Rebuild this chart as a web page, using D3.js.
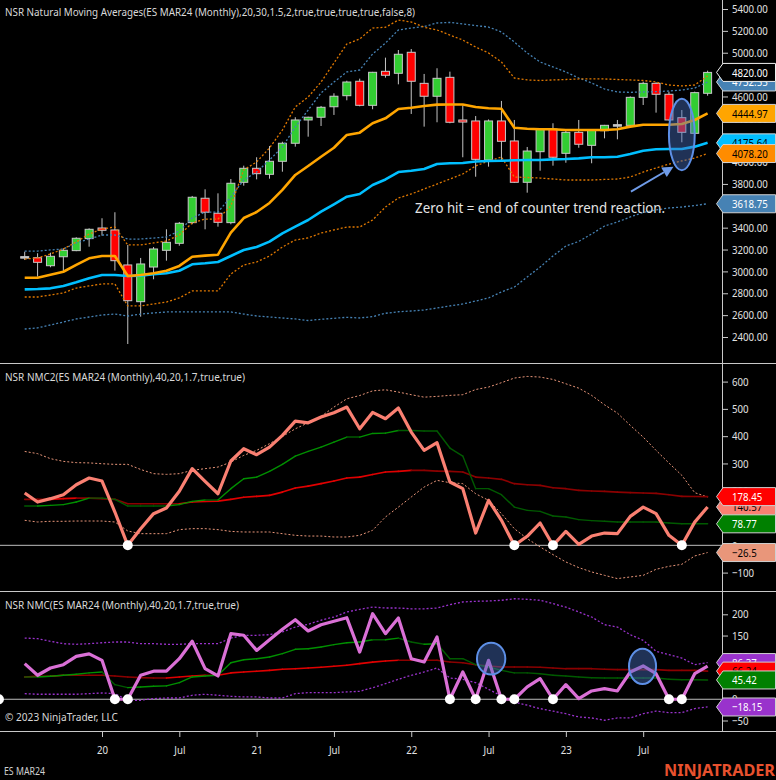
<!DOCTYPE html>
<html><head><meta charset="utf-8">
<script src="https://cdn.jsdelivr.net/npm/d3@7"></script>
<style>
html,body{margin:0;padding:0;background:#000;}
svg{display:block;}
text{font-family:"Segoe UI","Noto Sans","Open Sans",sans-serif;}
</style></head><body>
<svg id="chart" width="776" height="780"></svg>
<script>
// ---------- DATA ----------
const months = ["2019-07","2019-08","2019-09","2019-10","2019-11","2019-12",
"2020-01","2020-02","2020-03","2020-04","2020-05","2020-06","2020-07","2020-08","2020-09","2020-10","2020-11","2020-12",
"2021-01","2021-02","2021-03","2021-04","2021-05","2021-06","2021-07","2021-08","2021-09","2021-10","2021-11","2021-12",
"2022-01","2022-02","2022-03","2022-04","2022-05","2022-06","2022-07","2022-08","2022-09","2022-10","2022-11","2022-12",
"2023-01","2023-02","2023-03","2023-04","2023-05","2023-06","2023-07","2023-08","2023-09","2023-10","2023-11","2023-12"];
const xTickMonths = ["2020-01","2020-07","2021-01","2021-07","2022-01","2022-07","2023-01","2023-07"];
const xTickLabels = ["20","Jul","21","Jul","22","Jul","23","Jul"];

const open  = [3135,3125,3052,3134,3190,3300,3397,3379,3059,2723,3040,3193,3257,3446,3669,3532,3446,3815,3943,3888,4007,4172,4385,4410,4506,4607,4739,4519,4830,4812,5004,4720,4602,4775,4385,4376,4019,4376,4193,3815,4095,4302,4080,4272,4153,4287,4342,4336,4592,4720,4620,4406,4263,4629];
const high  = [3180,3166,3171,3211,3312,3394,3486,3541,3242,3123,3223,3385,3452,3690,3751,3714,3845,3967,4044,4147,4186,4410,4415,4513,4629,4744,4763,4825,4955,5025,5034,4806,4858,4827,4519,4421,4390,4559,4385,4138,4310,4355,4293,4385,4300,4340,4385,4600,4735,4730,4644,4476,4644,4836];
const low   = [3104,2952,3038,2997,3185,3226,3327,3007,2336,2586,2928,3098,3235,3431,3385,3409,3431,3784,3842,3848,3912,4141,4232,4330,4431,4565,4510,4483,4772,4711,4440,4324,4364,4355,4044,3866,3958,4019,3810,3720,3921,3967,3994,4131,3989,4217,4208,4330,4522,4452,4380,4181,4255,4607];
const close = [3135,3083,3138,3193,3303,3385,3376,3098,2732,3068,3205,3266,3440,3678,3541,3449,3806,3943,3894,4007,4172,4385,4410,4501,4602,4732,4519,4821,4794,4986,4739,4602,4766,4364,4366,4025,4376,4190,3815,4101,4305,4044,4272,4163,4293,4336,4342,4592,4720,4620,4385,4272,4635,4820];

const nmaFast   = [2942,2942,2970,2997,3059,3120,3141,3141,2958,2967,2983,3006,3050,3134,3144,3153,3354,3488,3543,3626,3745,3882,3964,4049,4131,4248,4269,4355,4400,4485,4497,4513,4525,4527,4527,4504,4492,4488,4314,4305,4300,4300,4293,4293,4293,4293,4300,4324,4342,4342,4342,4348,4385,4444.97];
const nmaSlow   = [2836,2839,2845,2867,2900,2937,2967,2967,2958,2961,2974,2983,3006,3065,3074,3086,3141,3196,3223,3272,3348,3409,3470,3546,3614,3683,3708,3790,3841,3909,3921,3937,3982,3989,3991,4005,4010,4012,4016,4019,4019,4025,4028,4034,4044,4044,4049,4074,4104,4117,4120,4120,4141,4175.64];
const fastUpper = [3113,3123,3159,3205,3269,3342,3388,3406,3242,3242,3260,3278,3333,3443,3479,3479,3600,3928,4001,4129,4293,4504,4595,4732,4906,5080,5126,5226,5233,5299,5281,5233,5208,5162,5116,5052,4998,4915,4769,4751,4746,4751,4755,4760,4760,4760,4755,4751,4746,4732,4705,4696,4705,4787];
const fastLower = [2766,2766,2784,2803,2848,2867,2885,2885,2684,2684,2702,2720,2757,2821,2821,2821,2976,3059,3086,3141,3223,3287,3306,3351,3379,3406,3406,3470,3589,3671,3708,3754,3799,3845,3891,3964,4010,4046,3863,3859,3854,3845,3836,3836,3836,3841,3845,3863,3909,3946,3982,4010,4037,4078.20];
const slowUpper = [3186,3186,3196,3205,3260,3296,3333,3333,3296,3296,3305,3315,3370,3488,3543,3543,3681,3836,3909,4019,4138,4321,4476,4632,4732,4824,4842,4988,5089,5208,5226,5240,5272,5277,5263,5249,5235,5190,5098,4998,4915,4870,4824,4769,4723,4668,4641,4638,4641,4644,4650,4659,4677,4732.55];
const slowLower = [2473,2483,2510,2537,2565,2583,2601,2610,2592,2610,2620,2629,2629,2629,2629,2629,2629,2610,2592,2583,2574,2565,2551,2562,2571,2580,2574,2586,2617,2631,2638,2647,2665,2684,2702,2729,2757,2812,2857,2949,3040,3141,3232,3274,3342,3415,3452,3498,3539,3562,3580,3589,3603,3618.75];
const priceTicks = [5400,5200,5000,4800,4600,4400,4200,4000,3800,3600,3400,3200,3000,2800,2600,2400];

const nmc2      = [191.6,158.6,171,185.6,222,246.6,235.6,122,0,61,116,136.8,198,281,234.4,189,309,354,332,360,403,455,449,470,486,506.6,427,487,464,503,415,348,376,232,207.6,45,165,91.6,0,33,81.8,0,51,3.7,34,45,42.7,106,140,116,36.6,0,85,140.57];
const nmc2Red   = [168.5,168.5,168.5,171,173,173,171,168.5,152.6,152.6,152.6,152.6,152.6,158.6,161,162,168.5,176,179.5,183,195,210,217,226,235.6,246.6,250,259.5,268.5,271,274.7,274.7,272,271,268.5,250,246.6,241.8,226,222,219.8,211,207.6,201.5,199,197.8,195,193,191.6,190.5,185.6,179.5,179,178.45];
const nmc2Green = [144,144,146.5,149,158.6,173,173,168.5,144,144,144,144,149,161,166,166,207.6,244,250,271,296.7,327,344,360,378,396.7,396.7,410,411,421,421,418.8,418.8,356.5,327,207.6,207.6,185.6,140,128,124.5,107.4,103.8,94,90.4,88,85.5,85.5,85.5,85.5,81.8,79,79,78.77];
const nmc2Upper = [344,336,317.5,307.7,303,302,299,296.7,296.7,278,262.6,260,262.6,274.7,281,286.8,305,329.7,348,372.5,399,427,449,472.5,506.6,537,549,566,570,561.6,552,543,545.8,549.5,552,571,580,596,613,619,616.6,608,592,576,549.5,515,484.6,439.6,396.7,348,301.5,256.4,193,177];
const nmc2Lower = [91.6,85.5,88,88,89,89,89,85.5,52.5,42.7,42.7,42.7,57.5,61,61,57.5,51,48.8,48.8,48.8,42.7,36.6,34,34,30.5,30.5,36.6,55,103.8,140,177,213.6,238,229.6,226,189,164.8,116,61,24.4,-6,-34,-61,-81.7,-97.6,-110,-122,-116,-110,-88,-77,-69.6,-39,-26.5];
const nmc2Ticks = [600,500,400,300,200,100,0,-100];

const nmc      = [83.8,56.5,73.6,81.4,101,107,91.7,0,0,56.5,66,66,95.5,136.5,72,54.8,154.4,150.6,115,140,164.7,187.3,160.7,175.5,183.5,192,111,201.5,154.4,191.3,95.5,87.8,146.6,0,64.2,0,91.7,0,0,29,48.5,0,34.4,1.5,19.5,25,19.5,64.2,78.4,60.2,0,0,60.2,78];
const nmcRed   = [52.5,54,54,56.5,56.5,56.5,56.5,54.8,52.5,51,50,50,52.5,54.8,56.5,56.5,62,64.2,66,68,70.6,72,73.6,75.3,77.6,80,83.8,87.5,90,91.7,91.7,91.7,91.7,87.8,86,81.4,78.4,76,76,76,75.3,73.6,72,72,72,70.6,69.8,69.8,69.8,69.8,68,68,68,66.24];
const nmcGreen = [52.5,52.5,54,56.5,58.8,62,64.2,34.4,27.3,29,30.6,31.4,39,52.5,54.8,56.5,86,93,95.5,99.5,107.3,117.6,119,123,128.5,133,134.8,140,140,144,134.8,129.4,130.8,95.5,95.5,81.4,76,68,62,62,60.2,56.5,54.8,52.5,50.8,50,50,50,50,50,47,46,46,45.42];
const nmcUpper = [144,142.6,136.5,130.8,129.4,130.8,133,134.8,134.8,130.8,130.8,129.4,129.4,130.8,130.8,130.8,144,150.6,150.6,152,158.4,170,176.5,186,193.6,205.4,211.7,217,214.8,214.8,213,213,214.8,222.6,229,230.6,231.3,233,236.7,235.3,233,225,217,205.4,193.6,175.5,170,152,138.8,113,105,97,81.4,86.37];
const nmcLower = [13.2,11.8,11.8,11.8,11.8,13.2,14.8,13.2,-2.4,-2.4,1.5,3,3,9.4,11.8,9.4,7,5.4,5.4,3,3,13.2,15.6,15.6,15.6,17.2,18.8,27,36.7,47,56.5,64.2,73.6,50,47,39,23.5,7.8,-6.4,-14,-22,-28,-34,-41.6,-44,-49.4,-44,-44,-34,-28,-31.5,-31.5,-22,-18.15];
const nmcTicks = [200,150,100,50,0,-50];
const nmcPriorZeroHits = [-2];   // bar index before the first visible bar

const titleTop = "NSR Natural Moving Averages(ES MAR24 (Monthly),20,30,1.5,2,true,true,true,true,false,8)";
const titleMid = "NSR NMC2(ES MAR24 (Monthly),40,20,1.7,true,true)";
const titleBot = "NSR NMC(ES MAR24 (Monthly),40,20,1.7,true,true)";

// annotations (bar index, value)
const topEllipse = {i0:50, i1:52, v0:4580, v1:3925};
const topArrow = {i0:47.05, v0:3729, i1:50.35, v1:3958};
const topNote = {i:30.3, v:3580, text:"Zero hit = end of counter trend reaction."};
const nmcEllipses = [{i0:35.1,i1:37.3,v0:133,v1:58},{i0:46.9,i1:49.0,v0:119,v1:36}];

// ---------- LAYOUT ----------
const svg = d3.select("#chart");
svg.append("rect").attr("width",776).attr("height",780).attr("fill","#000");
const AX = 722;
const panels = {top:[0,363], mid:[363,591], bot:[591,731]};
const x = d3.scalePoint().domain(months).range([24.7,707.6]);
const xi = d3.scaleLinear().domain([0,months.length-1]).range([24.7,707.6]);
const yTop = d3.scaleLinear().domain([2400,5400]).range([337,9]);
const yMid = d3.scaleLinear().domain([-100,600]).range([572.6,381.6]);
const yBot = d3.scaleLinear().domain([-50,200]).range([720.5,614.3]);

const defs = svg.append("defs");
Object.entries(panels).forEach(([k,[a,b]])=>{
  defs.append("clipPath").attr("id","clip-"+k).append("rect").attr("x",0).attr("y",a).attr("width",AX).attr("height",b-a);
});
const gTop = svg.append("g").attr("clip-path","url(#clip-top)");
const gMid = svg.append("g").attr("clip-path","url(#clip-mid)");
const gBot = svg.append("g").attr("clip-path","url(#clip-bot)");

function lineOf(y){ return d3.line().x((d,i)=>x(months[i])).y(d=>y(d)); }
function plotLine(g, data, y, color, w, dash){
  const p = g.append("path").attr("d", lineOf(y)(data)).attr("fill","none")
    .attr("stroke",color).attr("stroke-width",w).attr("stroke-linejoin","round");
  if(dash) p.attr("stroke-dasharray",dash);
  return p;
}
function slopeLine(g, data, y, upColor, dnColor, w){
  for(let i=1;i<data.length;i++){
    g.append("line").attr("x1",x(months[i-1])).attr("y1",y(data[i-1]))
      .attr("x2",x(months[i])).attr("y2",y(data[i]))
      .attr("stroke", data[i]>data[i-1]?upColor:dnColor).attr("stroke-width",w).attr("stroke-linecap","round");
  }
}

// ---------- TOP PANEL ----------
months.forEach((m,i)=>{
  const cx = x(m);
  gTop.append("line").attr("x1",cx).attr("x2",cx).attr("y1",yTop(high[i])).attr("y2",yTop(low[i]))
    .attr("stroke","#c4c4c4").attr("stroke-width",1);
  const o=open[i], c=close[i];
  const yt = yTop(Math.max(o,c)), yb = yTop(Math.min(o,c));
  gTop.append("rect").attr("x",cx-4).attr("y",yt).attr("width",8).attr("height",Math.max(1.5,yb-yt))
    .attr("fill", c>o?"#32CD32":(c<o?"#FF0000":"#c4c4c4")).attr("stroke","#c8c8c8").attr("stroke-width",1);
});
plotLine(gTop, slowLower, yTop, "#4682B4", 1.3, "2,2");
plotLine(gTop, slowUpper, yTop, "#4682B4", 1.3, "2,2");
plotLine(gTop, fastLower, yTop, "#E07800", 1.3, "2,2");
plotLine(gTop, fastUpper, yTop, "#E07800", 1.3, "2,2");
plotLine(gTop, nmaSlow, yTop, "#00BFFF", 2.6);
plotLine(gTop, nmaFast, yTop, "#FFA500", 2.6);

// annotations
const annColor = "#6f9be8";
gTop.append("ellipse")
  .attr("cx",(xi(topEllipse.i0)+xi(topEllipse.i1))/2).attr("cy",(yTop(topEllipse.v0)+yTop(topEllipse.v1))/2)
  .attr("rx",Math.abs(xi(topEllipse.i1)-xi(topEllipse.i0))/2).attr("ry",Math.abs(yTop(topEllipse.v1)-yTop(topEllipse.v0))/2)
  .attr("fill","rgba(72,110,190,0.45)").attr("stroke","#5d8fe6").attr("stroke-width",2);
(function(){
  const x1=xi(topArrow.i0), y1=yTop(topArrow.v0), x2=xi(topArrow.i1), y2=yTop(topArrow.v1);
  const a=Math.atan2(y2-y1,x2-x1), L=11, W=5.5;
  const bx=x2-L*Math.cos(a), by=y2-L*Math.sin(a);
  gTop.append("line").attr("x1",x1).attr("y1",y1).attr("x2",bx).attr("y2",by).attr("stroke",annColor).attr("stroke-width",2);
  const pts=[[x2,y2],[bx+W*Math.sin(a),by-W*Math.cos(a)],[bx-W*Math.sin(a),by+W*Math.cos(a)]];
  gTop.append("path").attr("d",d3.line()(pts)+"Z").attr("fill",annColor);
})();
gTop.append("text").attr("x",xi(topNote.i)).attr("y",yTop(topNote.v)).attr("dy","0.35em")
  .attr("fill","#e4e4e4").attr("font-size",13.5).attr("data-w",250).text(topNote.text);

// ---------- MIDDLE PANEL ----------
gMid.append("line").attr("x1",0).attr("x2",AX).attr("y1",yMid(0)).attr("y2",yMid(0)).attr("stroke","#bdbdbd").attr("stroke-width",1);
plotLine(gMid, nmc2Upper, yMid, "#E9967A", 1, "2,2");
plotLine(gMid, nmc2Lower, yMid, "#E9967A", 1, "2,2");
slopeLine(gMid, nmc2Red, yMid, "#E00000", "#8B0000", 1.6);
slopeLine(gMid, nmc2Green, yMid, "#009000", "#005A00", 1.4);
plotLine(gMid, nmc2, yMid, "#FA8072", 3.2);
nmc2.forEach((v,i)=>{ if(v===0) gMid.append("circle").attr("cx",x(months[i])).attr("cy",yMid(v)).attr("r",5).attr("fill","#fff"); });

// ---------- BOTTOM PANEL ----------
gBot.append("line").attr("x1",0).attr("x2",AX).attr("y1",yBot(0)).attr("y2",yBot(0)).attr("stroke","#bdbdbd").attr("stroke-width",1);
plotLine(gBot, nmcUpper, yBot, "#9932CC", 1.3, "2,2");
plotLine(gBot, nmcLower, yBot, "#9932CC", 1.3, "2,2");
slopeLine(gBot, nmcRed, yBot, "#E00000", "#8B0000", 1.6);
slopeLine(gBot, nmcGreen, yBot, "#009000", "#005A00", 1.4);
plotLine(gBot, nmc, yBot, "#DA70D6", 3.2);
nmc.forEach((v,i)=>{ if(v===0) gBot.append("circle").attr("cx",x(months[i])).attr("cy",yBot(v)).attr("r",5).attr("fill","#fff"); });
nmcPriorZeroHits.forEach(i=>{ gBot.append("circle").attr("cx",xi(i)).attr("cy",yBot(0)).attr("r",5).attr("fill","#fff"); });
nmcEllipses.forEach(e=>{
  gBot.append("ellipse")
    .attr("cx",(xi(e.i0)+xi(e.i1))/2).attr("cy",(yBot(e.v0)+yBot(e.v1))/2)
    .attr("rx",Math.abs(xi(e.i1)-xi(e.i0))/2).attr("ry",Math.abs(yBot(e.v1)-yBot(e.v0))/2)
    .attr("fill","rgba(72,110,190,0.45)").attr("stroke","#5d8fe6").attr("stroke-width",2);
});

// ---------- FRAME ----------
const frame = svg.append("g").attr("stroke","#c8c8c8").attr("stroke-width",1);
frame.append("line").attr("x1",AX+0.5).attr("x2",AX+0.5).attr("y1",0).attr("y2",731);
[363.5,591.5,731.5].forEach(yy=>frame.append("line").attr("x1",0).attr("x2",776).attr("y1",yy).attr("y2",yy));

// ---------- AXES ----------
const NARROW = 0.84;
function styleAxis(g){
  g.select(".domain").remove();
  g.selectAll(".tick line").attr("stroke","#c8c8c8");
  g.selectAll(".tick text").attr("fill","#e2e2e2").attr("font-size",11.5).attr("data-r",NARROW)
    .attr("font-family",'"Segoe UI","Noto Sans","Open Sans",sans-serif');
}
svg.append("g").attr("transform",`translate(${AX},0)`)
  .call(d3.axisRight(yTop).tickValues(priceTicks).tickFormat(d3.format(".2f")).tickSize(6).tickPadding(4)).call(styleAxis);
svg.append("g").attr("transform",`translate(${AX},0)`)
  .call(d3.axisRight(yMid).tickValues(nmc2Ticks).tickFormat(d3.format("d")).tickSize(6).tickPadding(4)).call(styleAxis);
svg.append("g").attr("transform",`translate(${AX},0)`)
  .call(d3.axisRight(yBot).tickValues(nmcTicks).tickFormat(d3.format("d")).tickSize(6).tickPadding(4)).call(styleAxis);
svg.append("g").attr("transform","translate(0,731)")
  .call(d3.axisBottom(x).tickValues(xTickMonths).tickFormat((d,i)=>xTickLabels[i]).tickSize(6).tickPadding(9)).call(styleAxis);

// ---------- VALUE TAGS ----------
function tag(yv, label, fill, txt, stroke){
  const g = svg.append("g");
  const pts=[[716.5,yv],[723,yv-9],[775.5,yv-9],[775.5,yv+9],[723,yv+9]];
  g.append("path").attr("d",d3.line()(pts)+"Z").attr("fill",fill).attr("stroke",stroke||"#d0d0d0").attr("stroke-width",1);
  g.append("text").attr("x",732).attr("y",yv).attr("dy","0.36em").attr("fill",txt).attr("font-size",11.5)
    .attr("data-r",NARROW).text(label);
}
const f2 = d3.format(".2f"), f2t = d3.format(".2~f");
const L = a=>a[a.length-1];
tag(yTop(L(slowUpper)), f2(L(slowUpper)), "#4682B4", "#fff");
tag(yTop(L(close)), f2(L(close)), "#000", "#fff", "#f0f0f0");
tag(yTop(L(nmaFast)), f2(L(nmaFast)), "#FFA500", "#000");
tag(yTop(L(nmaSlow)), f2(L(nmaSlow)), "#00BFFF", "#000");
tag(yTop(L(fastLower)), f2(L(fastLower)), "#FF8C00", "#000");
tag(yTop(L(slowLower)), f2(L(slowLower)), "#4682B4", "#fff");

tag(yMid(L(nmc2)), f2t(L(nmc2)), "#FA8072", "#000");
tag(yMid(L(nmc2Red)), f2t(L(nmc2Red)), "#FF0000", "#fff");
tag(yMid(L(nmc2Green)), f2t(L(nmc2Green)), "#008000", "#fff");
tag(yMid(L(nmc2Lower)), f2t(L(nmc2Lower)), "#E9967A", "#000");

tag(yBot(L(nmcUpper)), f2t(L(nmcUpper)), "#9932CC", "#fff");
tag(yBot(L(nmcRed)), f2t(L(nmcRed)), "#FF0000", "#000");
tag(yBot(L(nmcGreen)), f2t(L(nmcGreen)), "#008000", "#fff");
tag(yBot(L(nmcLower)), f2t(L(nmcLower)), "#9932CC", "#fff");

// ---------- TEXTS ----------
const T = (xx,yy,s,size,color,w)=>{ const t=svg.append("text").attr("x",xx).attr("y",yy).attr("font-size",size).attr("fill",color).text(s); if(w) t.attr("data-w",w); return t; };
T(5,16,titleTop,11.5,"#d8d8d8",410);
T(5,380.5,titleMid,11.5,"#d8d8d8",240);
T(5,608.5,titleBot,11.5,"#d8d8d8",234);
T(5,720.5,"© 2023 NinjaTrader, LLC",11.5,"#d8d8d8",113);
T(4,775,"ES MAR24",10,"#d0d0d0",41);
T(775,776,"NINJATRADER",16,"#E8512E",111).attr("text-anchor","end").attr("font-weight","bold");

// fit text widths to the reference's narrower UI font
svg.selectAll("text").each(function(){
  const r = this.getAttribute("data-r"), w = this.getAttribute("data-w");
  if(!r && !w) return;
  const nat = this.getComputedTextLength();
  const target = w ? +w : nat * (+r);
  this.setAttribute("textLength", target);
  this.setAttribute("lengthAdjust","spacingAndGlyphs");
});
</script>
</body></html>
